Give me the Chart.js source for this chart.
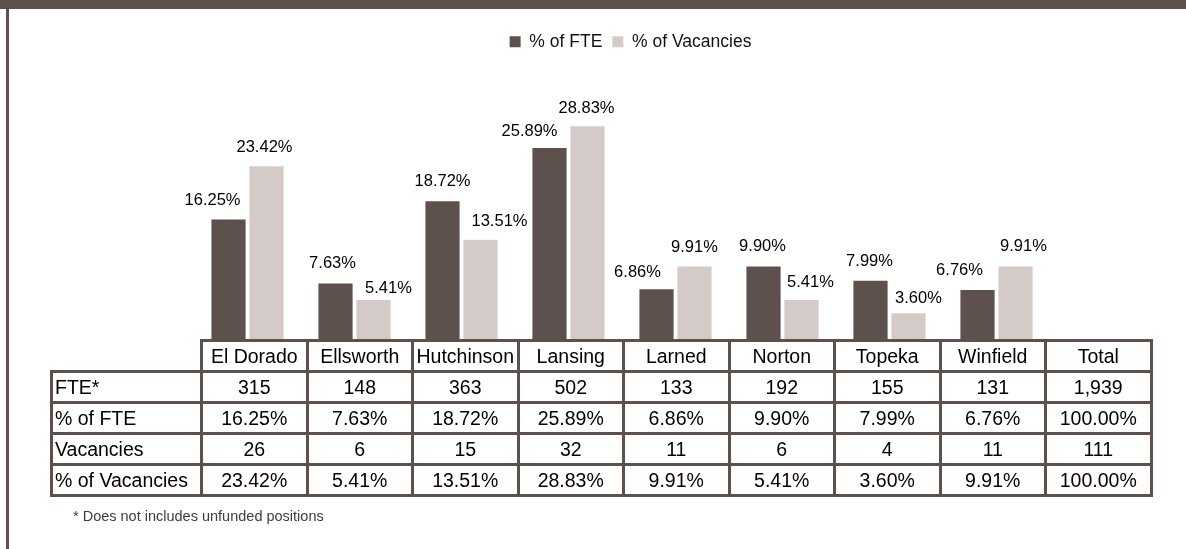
<!DOCTYPE html>
<html>
<head>
<meta charset="utf-8">
<script src="https://cdn.jsdelivr.net/npm/chart.js@4"></script>
<style>
  html, body { margin: 0; padding: 0; background: #fff; }
  body { width: 1186px; height: 549px; position: relative; overflow: hidden; font-family: "Liberation Sans", Arial, sans-serif; }
  #band { position: absolute; left: 0; top: 0; width: 1186px; height: 9px; background: #5e514d; }
  #edge { position: absolute; left: 6px; top: 0; width: 3px; height: 549px; background: #5e514d; }
  #wrap { position: absolute; left: 0; top: 0; width: 1186px; height: 549px; }
  #tbl { position: absolute; left: 50px; top: 339px; border-collapse: collapse; table-layout: fixed; width: 1100px; font-size: 19.5px; color: #000; }
  #tbl td { border: 3px solid #5e514d; height: 28px; padding: 0 2px; text-align: center; white-space: nowrap; overflow: hidden; }
  #tbl td.lab { text-align: left; }
  #tbl td.blank { border-top: none; border-left: none; }
  #note { position: absolute; left: 73px; top: 508px; font-size: 14.5px; color: #3c3c3c; }
</style>
</head>
<body>
<div id="band"></div>
<div id="edge"></div>
<div id="wrap"><canvas id="chart" width="1186" height="549"></canvas></div>
<table id="tbl"></table>
<div id="note">* Does not includes unfunded positions</div>
<script>
const sites = ["El Dorado", "Ellsworth", "Hutchinson", "Lansing", "Larned", "Norton", "Topeka", "Winfield"]
const fte = [315, 148, 363, 502, 133, 192, 155, 131]
const fteTotal = "1,939"
const vacancies = [26, 6, 15, 32, 11, 6, 4, 11]
const vacTotal = "111"
const pctFte = [16.25, 7.63, 18.72, 25.89, 6.86, 9.90, 7.99, 6.76]
const pctVac = [23.42, 5.41, 13.51, 28.83, 9.91, 5.41, 3.60, 9.91]

// label nudges (px) so the labels sit like the original
const nudgeFte = { dx: [-16, -3, 0, -20, -19, -1, -1, -18], dy: [-19, -20, -20, -17, -17, -20, -19, -19] }
const nudgeVac = { dx: [-2, 15, 19, -1, 0, 9, 10, 8], dy: [-19, -11, -18, -18, -19, -17, -15, -20] }

const dark = "#5e514d"
const light = "#d4cbc9"
const font = "'Liberation Sans', Arial, sans-serif"

// table under the bars
const tbl = document.getElementById("tbl")
let html = "<colgroup><col style='width:150px'>" + "<col style='width:105.5px'>".repeat(9) + "</colgroup>"
html += "<tr><td class='blank'></td>" + sites.map(s => "<td>" + s + "</td>").join("") + "<td>Total</td></tr>"
const rows = [
  ["FTE*", fte.map(String), fteTotal],
  ["% of FTE", pctFte.map(v => v.toFixed(2) + "%"), "100.00%"],
  ["Vacancies", vacancies.map(String), vacTotal],
  ["% of Vacancies", pctVac.map(v => v.toFixed(2) + "%"), "100.00%"]
]
rows.forEach(r => {
  html += "<tr><td class='lab'>" + r[0] + "</td>" + r[1].map(v => "<td>" + v + "</td>").join("") + "<td>" + r[2] + "</td></tr>"
})
tbl.innerHTML = html

const barLabels = {
  id: "barLabels",
  afterDatasetsDraw(chart) {
    const ctx = chart.ctx
    ctx.save()
    ctx.font = "16.5px " + font
    ctx.fillStyle = "#000"
    ctx.textAlign = "center"
    ctx.textBaseline = "middle"
    chart.data.datasets.forEach((ds, i) => {
      const nudge = i === 0 ? nudgeFte : nudgeVac
      chart.getDatasetMeta(i).data.forEach((bar, j) => {
        if (ds.data[j] == null) return
        ctx.fillText(ds.data[j].toFixed(2) + "%", bar.x + nudge.dx[j], bar.y + nudge.dy[j])
      })
    })
    ctx.restore()
  }
}

// legend is centred over the plot in the original, shift it left a bit
const legendShift = {
  id: "legendShift",
  afterLayout(chart) {
    chart.legend.left -= 90
  }
}

new Chart(document.getElementById("chart"), {
  type: "bar",
  data: {
    labels: sites.concat(["Total"]),
    datasets: [
      { label: "% of FTE", data: pctFte.concat([null]), backgroundColor: dark },
      { label: "% of Vacancies", data: pctVac.concat([null]), backgroundColor: light }
    ]
  },
  options: {
    responsive: false,
    maintainAspectRatio: false,
    animation: false,
    layout: { padding: { top: 23, left: 194, right: 29, bottom: 209 } },
    datasets: { bar: { categoryPercentage: 0.71, barPercentage: 0.9 } },
    scales: {
      x: { display: false, grid: { display: false } },
      y: { display: false, min: 0, max: 37.7, grid: { display: false } }
    },
    plugins: {
      legend: {
        position: "top",
        labels: { boxWidth: 11, boxHeight: 11, padding: 10, color: "#111", font: { size: 17.5, family: font } }
      },
      tooltip: { enabled: false }
    }
  },
  plugins: [barLabels, legendShift]
})
</script>
</body>
</html>
